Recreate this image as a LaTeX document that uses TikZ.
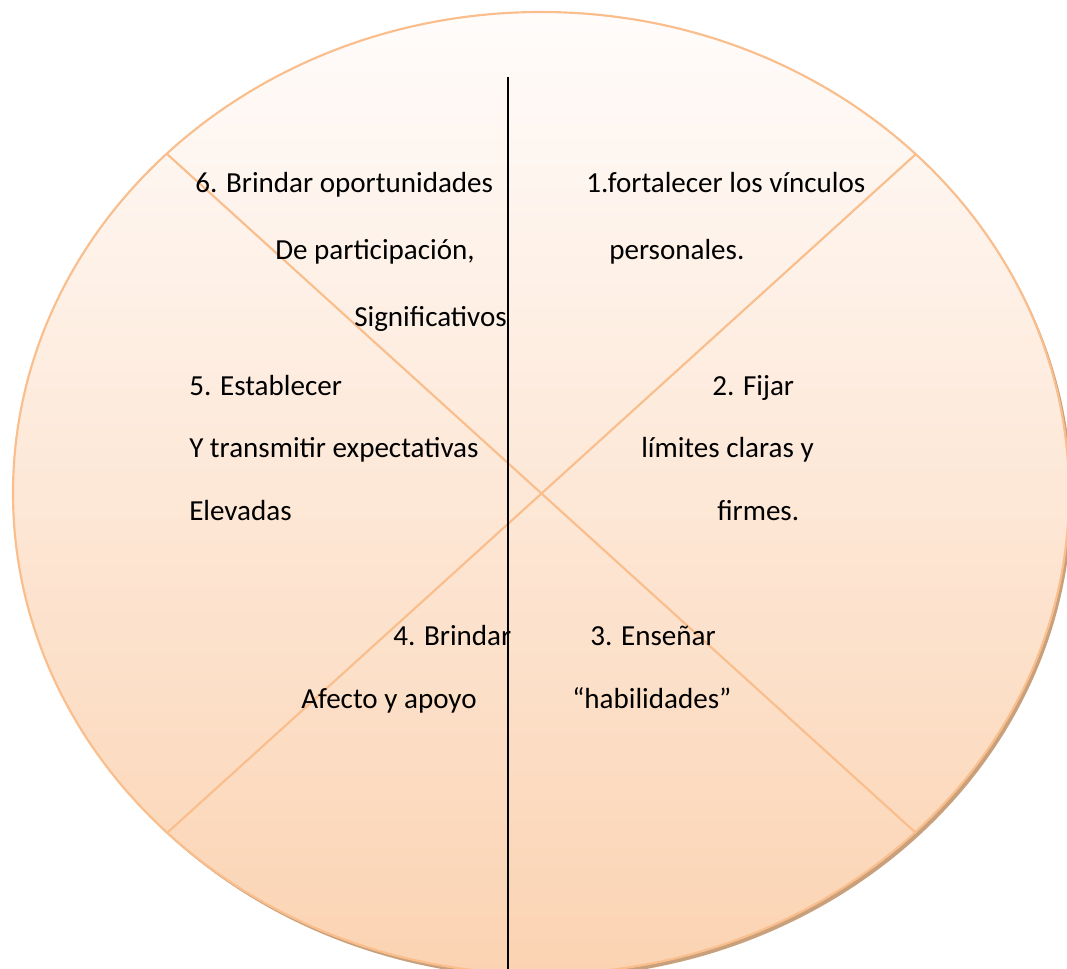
\documentclass[tikz,border=0pt]{standalone}
\usepackage{fontspec}
\setmainfont{Carlito}
\definecolor{rimorange}{HTML}{F9BE8C}
\definecolor{fadetop}{HTML}{FFFCFB}
\definecolor{fadebottom}{HTML}{FBD3B2}
\definecolor{shadowbrown}{HTML}{C9A07C}
\begin{document}
\begin{tikzpicture}[x=0.75pt,y=-0.75pt,
  lbl/.style={anchor=base west,inner sep=0pt,font=\fontsize{21.8}{26}\selectfont},
  spoke/.style={draw=rimorange,line width=1.6pt},
  divider/.style={draw=black,line width=1.1pt}]
\clip (0,0) rectangle (1067,969);
\fill[white] (0,0) rectangle (1067,969);
% disc with its soft shadow
\coordinate (c) at (541,493);
\fill[shadowbrown] (544,497) ellipse [x radius=396pt, y radius=360.75pt];
\shade[top color=fadetop, bottom color=fadebottom, draw=rimorange, line width=1.6pt]
  (c) ellipse [x radius=396pt, y radius=360.75pt];
% chords through the centre
\coordinate (nw) at (167,154);
\coordinate (ne) at (916,154);
\coordinate (sw) at (167,833);
\coordinate (se) at (916,833);
\draw[spoke] (nw) -- (se);
\draw[spoke] (ne) -- (sw);
% vertical divider
\coordinate (vtop) at (508,77);
\coordinate (vbot) at (508,969);
\draw[divider] (vtop) -- (vbot);
% labels
\node[lbl] (t6a) at (195,193) {6. Brindar oportunidades};
\node[lbl] (t6b) at (275,260) {De participación,};
\node[lbl] (t6c) at (354,327) {Significativos};
\node[lbl] (t1a) at (586,193) {1.fortalecer los vínculos};
\node[lbl] (t1b) at (609,260) {personales.};
\node[lbl] (t5a) at (189,396) {5. Establecer};
\node[lbl] (t5b) at (189,458) {Y transmitir expectativas};
\node[lbl] (t5c) at (189,521) {Elevadas};
\node[lbl] (t2a) at (712,396) {2. Fijar};
\node[lbl] (t2b) at (641,458) {límites claras y};
\node[lbl] (t2c) at (717,521) {firmes.};
\node[lbl] (t4a) at (393,645) {4. Brindar};
\node[lbl] (t4b) at (301,708) {Afecto y apoyo};
\node[lbl] (t3a) at (590,645) {3. Enseñar};
\node[lbl] (t3b) at (572,708) {“habilidades”};
\end{tikzpicture}
\end{document}
